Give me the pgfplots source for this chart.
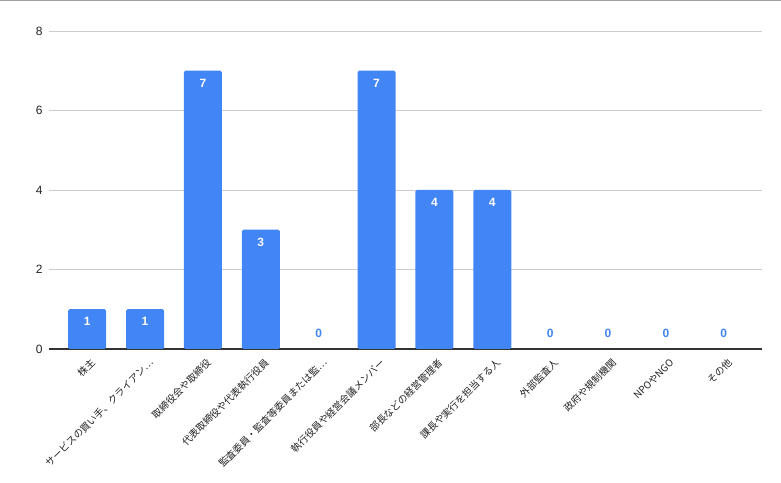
\documentclass[border=0pt]{standalone}
\usepackage{pgfplots}
\pgfplotsset{compat=1.18}
\usepackage{fontspec}
\setmainfont{Liberation Sans}
\newfontfamily\jp{Noto Sans CJK JP}
\definecolor{barblue}{HTML}{4285F4}
\definecolor{gridc}{HTML}{CCCCCC}
\definecolor{txt}{HTML}{222222}
\definecolor{basec}{HTML}{333333}
\begin{document}
\begin{tikzpicture}
\path[use as bounding box] (0,0) rectangle (781bp,483bp);
\draw[color=black!38, line width=1.5bp] (0,482.6bp) -- (781bp,482.6bp);
\begin{axis}[
  at={(49bp,134bp)}, anchor=south west,
  scale only axis, width=713bp, height=318bp,
  xmin=-0.66, xmax=11.66, ymin=0, ymax=8,
  ytick={0,2,4,6,8},
  xtick={0,...,11},
  xticklabels={株主,サービスの買い手、クライアン…,取締役会や取締役,代表取締役や代表執行役員,監査委員・監査等委員または監…,執行役員や経営会議メンバー,部長などの経営管理者,課長や実行を担当する人,外部監査人,政府や規制機関,NPOやNGO,その他},
  axis x line*=bottom, axis y line*=left,
  y axis line style={draw=none},
  x axis line style={draw=basec, line width=1.2bp},
  major tick length=0pt,
  ymajorgrids, grid style={draw=gridc, line width=0.9bp},
  /pgf/number format/assume math mode=true,
  yticklabel style={font=\fontsize{12bp}{14bp}\selectfont, text=txt, xshift=-3bp},
  xticklabel style={font=\jp\fontsize{9.8bp}{12bp}\selectfont, rotate=45, anchor=north east, text=txt, inner sep=0pt, yshift=-8bp, xshift=-4bp},
  ybar, bar width=38bp, bar shift=0pt,
  nodes near coords,
  every node near coord/.append style={font=\bfseries\fontsize{12bp}{14bp}\selectfont, anchor=south},
]
\addplot[fill=barblue, draw=none, rounded corners=1.5bp,
  every node near coord/.append style={text=white, yshift=-20bp}]
  coordinates {(0,1) (1,1) (2,7) (3,3) (5,7) (6,4) (7,4)};
\addplot[fill=none, draw=none,
  every node near coord/.append style={text=barblue, yshift=8bp}]
  coordinates {(4,0) (8,0) (9,0) (10,0) (11,0)};
\end{axis}
\end{tikzpicture}
\end{document}
